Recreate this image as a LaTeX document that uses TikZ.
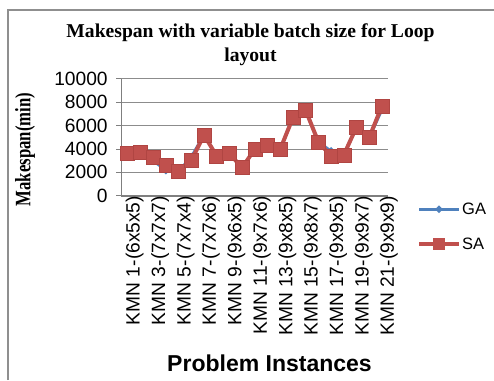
\documentclass[tikz,border=0pt]{standalone}
\usepackage{graphicx}
\usepackage{fontspec}
\setmainfont{Liberation Serif}
\newfontfamily\arialf{Liberation Sans}
\usetikzlibrary{shapes.geometric}
\definecolor{saRed}{HTML}{C0504D}
\definecolor{saEdge}{HTML}{B04542}
\definecolor{gaBlue}{HTML}{4F81BD}
\definecolor{gridGray}{HTML}{8C8C8C}
\definecolor{axisGray}{HTML}{7F7F7F}
\definecolor{frameGray}{HTML}{8F8F8F}
\tikzset{
  frameline/.style={draw=frameGray, line width=1.4pt},
  gridline/.style={draw=gridGray, line width=1pt},
  axisline/.style={draw=axisGray, line width=1.6pt},
  titlefont/.style={font=\bfseries\fontsize{19.6}{24}\selectfont, inner sep=0pt},
  ytitlefont/.style={font=\bfseries\fontsize{22}{24}\selectfont, inner sep=0pt},
  ticklbl/.style={font=\arialf\fontsize{19.2}{22}\selectfont, inner sep=0pt},
  xtitlefont/.style={font=\arialf\bfseries\fontsize{23}{26}\selectfont, inner sep=0pt},
  legendfont/.style={font=\arialf\fontsize{16.5}{19}\selectfont, inner sep=0pt},
  galine/.style={draw=gaBlue, line width=3pt, line join=round},
  saline/.style={draw=saRed, line width=4pt, line join=round},
  gamark/.style={diamond, fill=gaBlue, inner sep=0pt, minimum size=9pt},
  samark/.style={rectangle, fill=saRed, draw=saEdge, line width=0.5pt, inner sep=0pt, minimum size=14pt},
  galegmark/.style={diamond, fill=gaBlue, inner sep=0pt, minimum size=8pt},
  salegmark/.style={rectangle, fill=saRed, inner sep=0pt, minimum size=12pt},
}
\begin{document}
\begin{tikzpicture}[x=1pt,y=-1pt]
\useasboundingbox (0,0) rectangle (494,380);
\fill[white] (0,0) rectangle (494,380);
% outer frame
\draw[frameline] (8,380) -- (8,10) -- (494,10);
% title
\node[titlefont, anchor=base] (title1) at (250.5,37.7) {Makespan with variable batch size for Loop};
\node[titlefont, anchor=base] (title2) at (250.5,61.5) {layout};
% axis titles
\node[ytitlefont, rotate=90] (ytitle) at (25,149.5) {\scalebox{0.76}[1]{Makespan(min)}};
\node[xtitlefont, anchor=base] (xtitle) at (269.5,371.7) {Problem Instances};
% plot
\begin{scope}[xshift=121.35pt, yshift=-195.7pt, x=12.714pt, y=0.011667pt]
  \foreach \v in {2000,4000,6000,8000,10000}{
    \draw[gridline] (0,\v) -- (21,\v);
  }
  \draw[axisline] (0,10000) -- (0,0) -- (21,0);
  \foreach \v in {0,2000,4000,6000,8000,10000}{
    \draw[axisline, line width=1pt] (0,\v) -- ++(-5pt,0);
    \node[ticklbl, anchor=east, xshift=-13.5pt] (yt\v) at (0,\v) {\v};
  }
  \foreach \i/\t in {1/1-(6x5x5),3/3-(7x7x7),5/5-(7x7x4),7/7-(7x7x6),9/9-(9x6x5),11/11-(9x7x6),13/13-(9x8x5),15/15-(9x8x7),17/17-(9x9x5),19/19-(9x9x7),21/21-(9x9x9)}{
    \node[ticklbl, rotate=90, anchor=east, yshift=-7pt] (xl\i) at (\i-0.5,0) {KMN \t};
  }
  % data
  \foreach \i/\v in {1/3600,2/3700,3/3000,4/2200,5/2100,6/3300,7/5200,8/3400,9/3600,10/2400,11/4000,12/4300,13/4000,14/6700,15/7300,16/4600,17/3800,18/3500,19/5900,20/5000,21/7400}{
    \coordinate (g\i) at (\i-0.5,\v);
  }
  \foreach \i/\v in {1/3600,2/3700,3/3300,4/2600,5/2100,6/3000,7/5200,8/3400,9/3600,10/2400,11/4000,12/4300,13/4000,14/6700,15/7300,16/4600,17/3400,18/3500,19/5900,20/5000,21/7700}{
    \coordinate (s\i) at (\i-0.5,\v);
  }
  \draw[galine] (g1) \foreach \i in {2,...,21}{ -- (g\i)};
  \foreach \i in {1,...,21}{ \node[gamark] (gm\i) at (g\i) {}; }
  \draw[saline] (s1) \foreach \i in {2,...,21}{ -- (s\i)};
  \foreach \i in {1,...,21}{ \node[samark] (sm\i) at (s\i) {}; }
\end{scope}
% legend
\coordinate (lgaA) at (419,209.3);
\coordinate (lgaB) at (459,209.3);
\draw[galine] (lgaA) -- (lgaB);
\node[galegmark] (lgaM) at (439,209.3) {};
\node[legendfont, anchor=west] (lgaT) at (462,209.3) {GA};
\coordinate (lsaA) at (419,244.3);
\coordinate (lsaB) at (459,244.3);
\draw[saline] (lsaA) -- (lsaB);
\node[salegmark] (lsaM) at (439,244.3) {};
\node[legendfont, anchor=west] (lsaT) at (462,244.3) {SA};
\end{tikzpicture}
\end{document}
